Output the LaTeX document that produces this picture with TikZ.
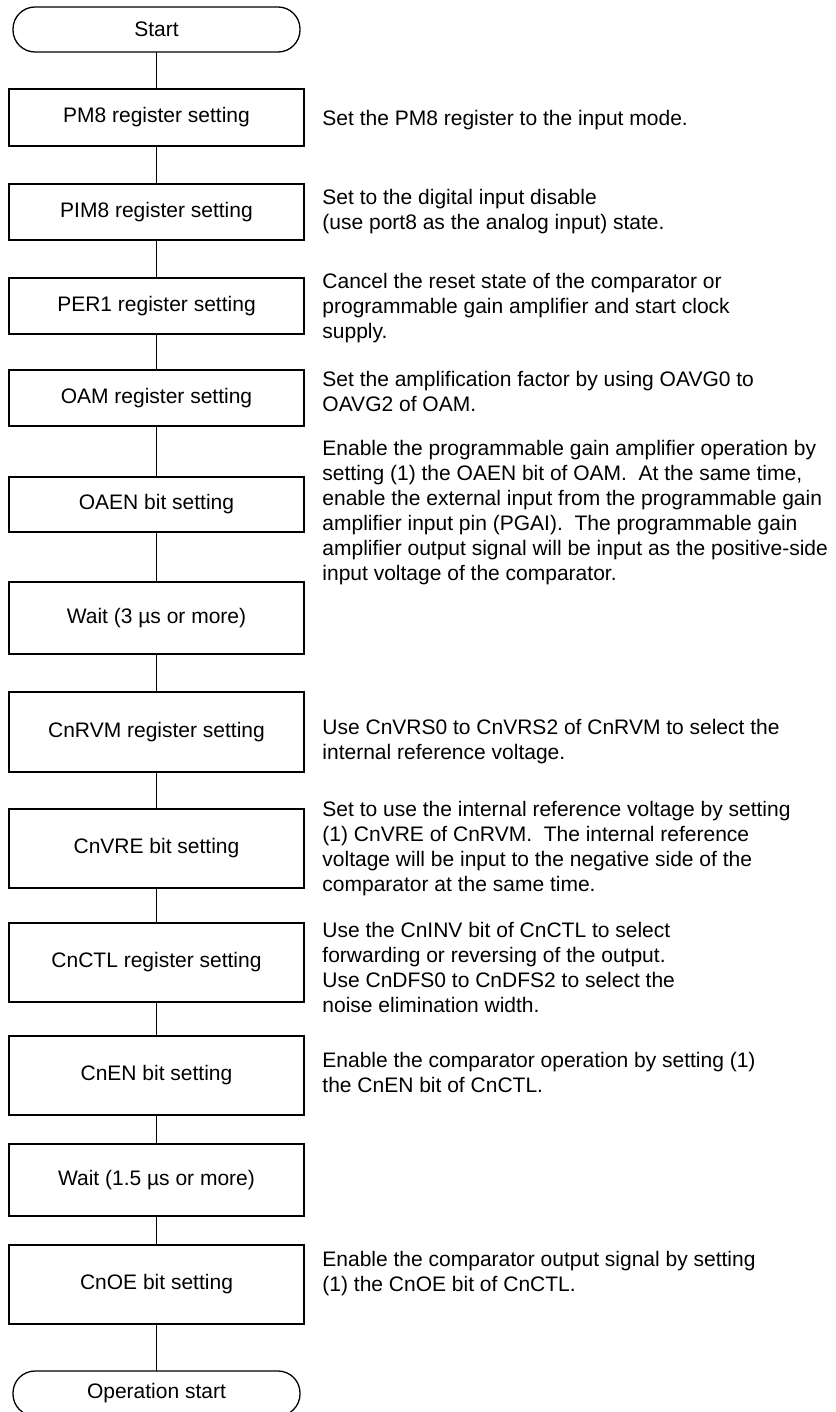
\documentclass[tikz,border=0pt]{standalone}
\usepackage{fontspec}
\setmainfont{Liberation Sans}
\usetikzlibrary{positioning}

\begin{document}
\begin{tikzpicture}[line width=0.9pt,node distance=37pt,
  every node/.style={font=\fontsize{21}{25}\selectfont},
  term/.style={draw,line width=1.3pt,rounded corners=22pt,minimum width=287pt,minimum height=45pt,inner sep=0pt,outer sep=0pt},
  proc/.style={draw,line width=1.3pt,minimum width=295pt,minimum height=56pt,inner sep=0pt,outer sep=0pt},
  note/.style={align=left,inner sep=0pt}]
\useasboundingbox (0,0) rectangle (835pt,-1412pt);
% flow
\node[term] (start) at (156.5pt,-29.5pt) {Start};
\node[proc,minimum height=57pt,below=37pt of start] (pm) {PM8 register setting};
\node[proc,below=38pt of pm] (pim) {PIM8 register setting};
\node[proc,below=38pt of pim] (per) {PER1 register setting};
\node[proc,below=36pt of per] (oam) {OAM register setting};
\node[proc,minimum height=55pt,below=51pt of oam] (oaen) {OAEN bit setting};
\node[proc,minimum height=72pt,below=50pt of oaen] (waita) {Wait (3 µs or more)};
\node[proc,minimum height=80pt,below=38pt of waita] (rvm) {CnRVM register setting};
\node[proc,minimum height=79pt,below=37pt of rvm] (vre) {CnVRE bit setting};
\node[proc,minimum height=79pt,below=35pt of vre] (ctl) {CnCTL register setting};
\node[proc,minimum height=79pt,below=34pt of ctl] (en) {CnEN bit setting};
\node[proc,minimum height=72pt,below=29pt of en] (waitb) {Wait (1.5 µs or more)};
\node[proc,minimum height=79pt,below=29pt of waitb] (oe) {CnOE bit setting};
\node[term,below=47pt of oe] (opstart) {Operation start};
% notes
\node[note,right=18pt of pm,yshift=-3pt] (pmnote) {Set the PM8 register to the input mode.};
\node[note,right=18pt of pim] (pimnote) {Set to the digital input disable\\(use port8 as the analog input) state.};
\node[note,right=18pt of per,yshift=-2pt] (pernote) {Cancel the reset state of the comparator or\\programmable gain amplifier and start clock\\supply.};
\node[note,right=18pt of oam,yshift=7pt] (oamnote) {Set the amplification factor by using OAVG0 to\\OAVG2 of OAM.};
\node[note,right=18pt of oaen,yshift=-8pt] (oaennote) {Enable the programmable gain amplifier operation by\\setting (1) the OAEN bit of OAM.\ \ At the same time,\\enable the external input from the programmable gain\\amplifier input pin (PGAI).\ \ The programmable gain\\amplifier output signal will be input as the positive-side\\input voltage of the comparator.};
\node[note,right=18pt of rvm,yshift=-10pt] (rvmnote) {Use CnVRS0 to CnVRS2 of CnRVM to select the\\internal reference voltage.};
\node[note,right=18pt of vre] (vrenote) {Set to use the internal reference voltage by setting\\(1) CnVRE of CnRVM.\ \ The internal reference\\voltage will be input to the negative side of the\\comparator at the same time.};
\node[note,right=18pt of ctl,yshift=-5pt] (ctlnote) {Use the CnINV bit of CnCTL to select\\forwarding or reversing of the output.\\Use CnDFS0 to CnDFS2 to select the\\noise elimination width.};
\node[note,right=18pt of en,yshift=3pt] (ennote) {Enable the comparator operation by setting (1)\\the CnEN bit of CnCTL.};
\node[note,right=18pt of oe,yshift=11pt] (oenote) {Enable the comparator output signal by setting\\(1) the CnOE bit of CnCTL.};
% connectors
\draw (start)--(pm);\draw (pm)--(pim);\draw (pim)--(per);\draw (per)--(oam);
\draw (oam)--(oaen);\draw (oaen)--(waita);\draw (waita)--(rvm);\draw (rvm)--(vre);
\draw (vre)--(ctl);\draw (ctl)--(en);\draw (en)--(waitb);\draw (waitb)--(oe);
\draw (oe)--(opstart);
\end{tikzpicture}
\end{document}
